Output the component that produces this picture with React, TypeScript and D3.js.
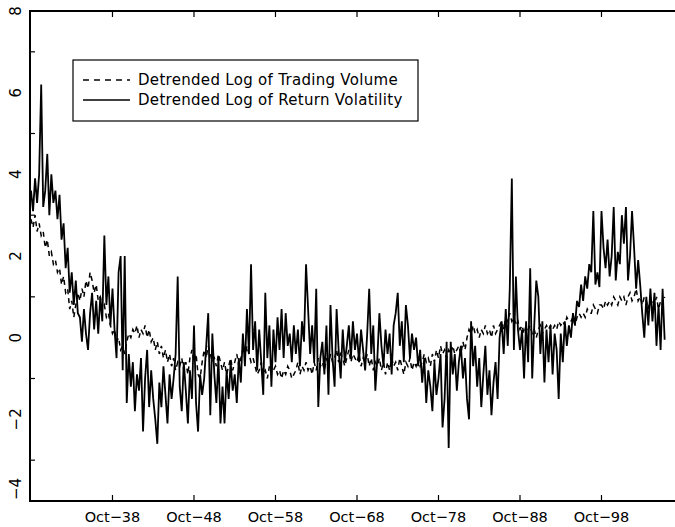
import React from "react";
import * as d3 from "d3";

// Quarterly observations starting Oct 1928
const START_YEAR = 1928;
const START_MONTH = 9; // October
const STEP_MONTHS = 3;

const volatility: number[] = [
  3.6, 3.1, 3.9, 3.3, 4.0, 6.2, 3.2, 3.6, 4.5, 3.0,
  4.0, 3.3, 3.6, 2.9, 3.5, 2.4, 2.8, 1.7, 2.2, 1.1,
  1.6, 0.8, 1.4, 0.6, 0.5, -0.1, 0.7, 0.1, -0.3, 0.6,
  1.1, 0.2, 0.9, 0.1, 1.0, 0.4, 2.5, 0.8, 1.5, 0.3,
  1.2, 0.2, -0.5, 1.6, 2.0, -0.8, 2.0, -1.6, -0.4, -1.2,
  -0.6, -1.8, -0.9, -1.3, -0.5, -2.3, -1.0, -0.3, -1.7, -0.8,
  -1.5, -2.0, -2.6, -1.1, -1.7, -0.7, -1.4, -2.1, -0.9, -1.5,
  -1.0, -0.4, 1.5, -1.2, -1.8, -0.6, -1.3, -2.1, -0.8, -1.5,
  0.3, -1.6, -2.3, -0.9, -1.4, -1.0, -0.2, 0.6, -1.9, 0.1,
  -0.9, -1.6, -0.5, -2.1, -1.2, -2.1, -0.8, -1.5, -0.6, -1.3,
  -0.9, -1.6, -0.5, -1.1, 0.1, -0.7, 0.7, -0.4, 1.8, -0.3,
  0.4, -0.8, 0.2, -0.6, -1.4, 1.1, -0.5, 0.3, -1.2, 0.2,
  -0.6, 0.5, -0.3, 0.7, -0.5, 0.6, -0.2, 0.1, -0.6, 0.3,
  -0.4, 0.2, -0.7, 0.4, -0.1, 1.8, 0.7, -0.4, 0.3, -0.6,
  1.2, -1.7, -0.5, -0.1, -0.9, 0.3, -1.4, 0.8, -0.5, -1.2,
  0.7, -0.3, -1.0, 0.2, -0.6, -0.2, 0.3, -0.5, 0.4, -0.3,
  0.1, -0.6, 0.2, -0.3, -0.8, 0.1, 1.2, -0.4, 0.3, -1.3,
  -0.5, 0.6, -0.2, -0.7, 0.2, -0.4, 0.1, -0.9, 0.3, 0.6,
  1.1, -0.2, 0.4, -0.6, 0.8, 0.3, -0.5, 0.1, -0.3, 0.0,
  -0.7, -0.3, -1.1, -0.5, -1.6, -0.8, -1.2, -1.8, -0.6, -1.4,
  -1.0, -0.4, -2.2, -1.5, -0.1, -2.7, -0.1, -0.9, -0.4, -1.3,
  -0.6, -0.2, -1.0, -0.5, -1.5, -2.0, 0.4, -0.7, -0.2, -1.2,
  -0.5, -1.7, -0.9, -0.2, -1.4, -0.8, -1.9, -1.1, -0.6, -1.5,
  0.0, 0.4, -0.4, 0.7, -0.2, 1.2, 3.9, -0.3, 1.5, 0.2,
  -0.3, 0.2, -1.0, 0.4, -0.6, 1.7, -1.0, 0.3, 1.4, 1.0,
  -0.4, 0.4, -1.1, 0.2, -0.6, 0.3, -0.9, 0.1, -0.3, -1.5,
  0.1, -0.6, 0.4, -0.2, 0.3, 0.0, 0.6, 0.3, 0.9, 0.75,
  1.3, 0.9, 1.5, 1.2, 1.8, 1.6, 3.1, 1.3, 1.6, 1.24,
  3.1, 2.2, 1.7, 2.4, 1.5, 2.0, 3.2, 1.4, 2.1, 1.8,
  3.0, 2.3, 3.2, 1.4, 2.0, 3.1, 2.2, 1.2, 1.9, 1.3,
  0.6, 0.0, 1.0, 0.3, 1.2, 0.4, 1.1, -0.2, 0.8, -0.3,
  1.2, -0.05,
];

const volume: number[] = [
  2.9, 2.7, 3.0, 2.6, 2.8, 2.5, 2.6, 2.2, 2.4, 2.0,
  2.1, 1.8, 1.9, 1.6, 1.7, 1.3, 1.5, 1.1, 1.2, 0.7,
  0.9, 0.5, 0.8, 1.1, 0.9, 1.2, 1.0, 1.4, 1.2, 1.6,
  1.4, 1.1, 1.3, 0.9, 1.0, 0.7, 0.8, 0.5, 0.6, 0.3,
  0.1, 0.2, -0.1, 0.0, -0.3, -0.2, -0.4, -0.1, 0.1, 0.0,
  0.2, 0.1, 0.3, 0.0, 0.2, 0.1, 0.3, 0.0, 0.2, -0.1,
  0.0, -0.3, -0.1, -0.4, -0.2, -0.5, -0.3, -0.6, -0.4, -0.7,
  -0.5, -0.8, -0.6, -0.7, -0.5, -0.8, -0.6, -0.9, -0.5, -0.3,
  -0.6, -0.4, -0.9, -1.0, -0.6, -0.3, -0.5, -0.2, -0.4, -0.6,
  -0.5, -0.7, -0.4, -0.6, -0.8, -0.6, -0.9, -0.7, -0.5, -0.8,
  -0.6, -0.4, -0.7, -0.5, -0.3, -0.5, -0.2, -0.4, -0.6, -0.5,
  -0.7, -0.9, -0.8, -0.6, -0.9, -0.8, -1.0, -0.7, -0.9, -0.8,
  -0.7, -0.9, -0.8, -1.0, -0.8, -0.9, -0.7, -0.8, -1.0, -0.9,
  -0.8, -0.6, -0.9, -0.7, -0.8, -0.6, -0.8, -0.7, -0.9, -0.6,
  -0.8, -0.5, -0.7, -0.6, -0.8, -0.5, -0.7, -0.4, -0.6, -0.5,
  -0.3, -0.6, -0.4, -0.5, -0.7, -0.5, -0.3, -0.6, -0.4, -0.5,
  -0.6, -0.4, -0.7, -0.5, -0.6, -0.4, -0.7, -0.5, -0.8, -0.6,
  -0.7, -0.5, -0.8, -0.6, -0.9, -0.6, -0.8, -0.5, -0.7, -0.6,
  -0.8, -0.5, -0.7, -0.9, -0.6, -0.7, -0.5, -0.8, -0.6, -0.7,
  -0.5, -0.7, -0.6, -0.4, -0.6, -0.5, -0.7, -0.4, -0.6, -0.3,
  -0.5, -0.2, -0.4, -0.3, -0.5, -0.3, -0.4, -0.2, -0.4, -0.3,
  -0.2, -0.4, -0.1, -0.3, 0.0, 0.2, 0.1, 0.3, 0.1, 0.2,
  0.0, 0.2, 0.1, 0.3, 0.1, 0.2, 0.0, 0.3, 0.1, 0.2,
  0.3, 0.4, 0.2, 0.5, 0.4, 0.6, 0.4, 0.5, 0.3, 0.4,
  0.2, 0.3, 0.1, 0.3, 0.2, 0.3, 0.1, 0.2, 0.0, 0.2,
  0.3, 0.1, 0.2, 0.3, 0.2, 0.3, 0.2, 0.3, 0.2, 0.4,
  0.3, 0.4, 0.3, 0.5, 0.4, 0.4, 0.5, 0.3, 0.5, 0.6,
  0.5, 0.6, 0.5, 0.7, 0.6, 0.6, 0.8, 0.7, 0.6, 0.8,
  0.8, 0.7, 0.9, 0.8, 0.9, 0.8, 1.0, 0.9, 0.8, 1.0,
  0.9, 1.0, 0.8, 1.0, 1.1, 0.9, 1.0, 1.2, 0.9, 1.0,
  0.8, 1.0, 0.9, 0.7, 1.0, 0.9, 0.8, 1.0, 0.7, 0.9,
  0.8, 1.0,
];

const xTickYears = [1938, 1948, 1958, 1968, 1978, 1988, 1998];
const xTickLabels = ["Oct\u221238", "Oct\u221248", "Oct\u221258", "Oct\u221268", "Oct\u221278", "Oct\u221288", "Oct\u221298"];
const yLabelValues = [-4, -2, 0, 2, 4, 6, 8];
const yMinorValues = [-3, -1, 1, 3, 5, 7];
const seriesNames = ["Detrended Log of Trading Volume", "Detrended Log of Return Volatility"];

const W = 675;
const H = 527;
const FONT = "DejaVu Sans, sans-serif";

export default function App() {
  const x = d3
    .scaleTime()
    .domain([new Date(1928, 9, 1), new Date(2008, 9, 1)])
    .range([31, 683]);
  const y = d3.scaleLinear().domain([-4, 8]).range([501, 11]);

  const dateAt = (i: number) => new Date(START_YEAR, START_MONTH + STEP_MONTHS * i, 1);
  const line = d3
    .line<number>()
    .x((_, i) => x(dateAt(i)))
    .y((d) => y(d));

  const left = 30;
  const bottom = y(-4);
  const top = y(8);
  const right = x(new Date(2008, 9, 1));

  return (
    <svg width={W} height={H} style={{ position: "absolute", left: 0, top: 0, background: "#fff" }}>
      <rect x={0} y={0} width={W} height={H} fill="#fff" />
      <path d={line(volume) || ""} fill="none" stroke="#000" strokeWidth={1.5} strokeDasharray="5,4" />
      <path d={line(volatility) || ""} fill="none" stroke="#000" strokeWidth={1.8} strokeLinejoin="miter" />

      {/* frame */}
      <path d={`M${right},${top}H${left}V${bottom}H${right}`} fill="none" stroke="#000" strokeWidth={2} />

      {/* y minor ticks */}
      {yMinorValues.map((v) => (
        <line key={"ym" + v} x1={left} x2={left + 5} y1={y(v)} y2={y(v)} stroke="#000" strokeWidth={1.2} />
      ))}
      {/* y labels */}
      {yLabelValues.map((v, i) => {
        const lbl = v < 0 ? "\u2212" + Math.abs(v) : String(v);
        const isLast = i === 0;
        return (
          <text
            key={"yl" + v}
            transform={`translate(21,${isLast ? y(v) - 1 : y(v)}) rotate(-90)`}
            textAnchor={isLast ? "start" : "middle"}
            fontFamily={FONT}
            fontSize={15}
            fill="#000"
          >
            {lbl}
          </text>
        );
      })}

      {/* x ticks */}
      {xTickYears.map((yr, i) => {
        const px = x(new Date(yr, 9, 1));
        return (
          <g key={"xt" + yr}>
            <line x1={px} x2={px} y1={bottom} y2={bottom - 6} stroke="#000" strokeWidth={1.2} />
            <line x1={px} x2={px} y1={top} y2={top + 6} stroke="#000" strokeWidth={1.2} />
            <text x={px} y={522} textAnchor="middle" fontFamily={FONT} fontSize={14.5} fill="#000">
              {xTickLabels[i]}
            </text>
          </g>
        );
      })}

      {/* legend */}
      <rect x={73} y={60} width={345} height={61} fill="#fff" stroke="#000" strokeWidth={1.2} />
      <line x1={83} x2={130} y1={80} y2={80} stroke="#000" strokeWidth={1.3} strokeDasharray="6,5" />
      <line x1={83} x2={130} y1={100} y2={100} stroke="#000" strokeWidth={1.3} />
      <text x={138} y={85} fontFamily={FONT} fontSize={15} letterSpacing={0.3} fill="#000">
        {seriesNames[0]}
      </text>
      <text x={138} y={105} fontFamily={FONT} fontSize={15} letterSpacing={0.3} fill="#000">
        {seriesNames[1]}
      </text>
    </svg>
  );
}
